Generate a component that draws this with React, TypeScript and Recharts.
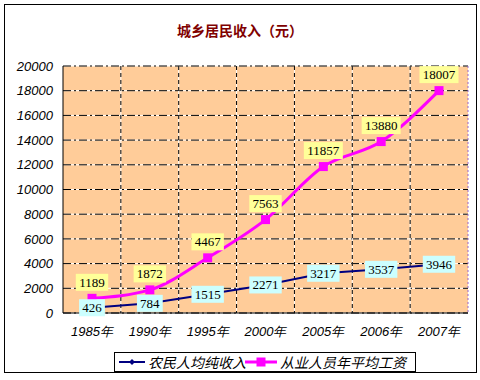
import React from "react";
import { LineChart, Line, XAxis, YAxis, CartesianGrid, LabelList, Customized } from "recharts";

const years = ["1985年", "1990年", "1995年", "2000年", "2005年", "2006年", "2007年"];
const farmerIncome = [426, 784, 1515, 2271, 3217, 3537, 3946];
const wageIncome = [1189, 1872, 4467, 7563, 11857, 13880, 18007];
const yTicks = [0, 2000, 4000, 6000, 8000, 10000, 12000, 14000, 16000, 18000, 20000];
const title = "城乡居民收入（元）";
const farmerName = "农民人均纯收入";
const wageName = "从业人员年平均工资";

const data = years.map((y, i) => ({ year: y, farmer: farmerIncome[i], wage: wageIncome[i] }));

const PINK = "#FF00FF";
const NAVY = "#000080";
const tickFont = "'Liberation Sans', Arial, sans-serif";
const labelFont = "'Liberation Serif', 'Times New Roman', serif";
const cjkFont = "'Noto Sans CJK SC', sans-serif";

const makeLabel = (fill: string, dyOffset: number) => (props: any) => {
  const { x, y, value } = props;
  const s = String(value);
  const w = s.length * 6.6 + 6;
  const h = 17;
  const cy = y + dyOffset;
  return (
    <g>
      <rect x={x - w / 2} y={cy - h / 2} width={w} height={h} fill={fill} />
      <text x={x} y={cy} textAnchor="middle" dominantBaseline="central" fontFamily={labelFont} fontSize={13} fill="#000">
        {s}
      </text>
    </g>
  );
};

const Diamond = (props: any) => {
  const { cx, cy } = props;
  if (cx == null || cy == null) return null;
  const r = 3;
  return <path d={`M${cx},${cy - r}L${cx + r},${cy}L${cx},${cy + r}L${cx - r},${cy}Z`} fill={NAVY} />;
};

const Square = (props: any) => {
  const { cx, cy } = props;
  if (cx == null || cy == null) return null;
  return <rect x={cx - 4.5} y={cy - 4.5} width={9} height={9} fill={PINK} />;
};

const Decor = (props: any) => {
  const off = props.offset || {};
  const left = off.left ?? 63;
  const top = off.top ?? 66;
  const width = off.width ?? 405;
  const right = left + width;
  return (
    <g>
      <rect x={4.5} y={4.5} width={472} height={368} fill="none" stroke="#000" strokeWidth={1} />
      <text x={240} y={30} textAnchor="middle" dominantBaseline="central" fontFamily={cjkFont} fontWeight="bold" fontSize={14} fill="#800000">
        {title}
      </text>
      <line x1={right} y1={top} x2={right} y2={top + (off.height ?? 247)} stroke="#9966CC" strokeDasharray="2 2" />
      <g>
        <rect x={114.5} y={352.5} width={301} height={19} fill="#fff" stroke="#000" />
        <line x1={119} y1={362} x2={145} y2={362} stroke={NAVY} strokeWidth={2} />
        <Diamond cx={132} cy={362} />
        <text x={148} y={362} dominantBaseline="central" fontFamily={cjkFont} fontStyle="italic" fontSize={14} fill="#000">
          {farmerName}
        </text>
        <line x1={245} y1={362} x2={277} y2={362} stroke={PINK} strokeWidth={3} />
        <Square cx={261} cy={362} />
        <text x={280} y={362} dominantBaseline="central" fontFamily={cjkFont} fontStyle="italic" fontSize={14} fill="#000">
          {wageName}
        </text>
      </g>
    </g>
  );
};

const vGen = (p: any) => {
  const off = p.offset;
  const n = years.length;
  const res: number[] = [];
  for (let i = 1; i < n; i++) res.push(off.left + (i * off.width) / n);
  return res;
};

export default function App() {
  return (
    <div style={{ position: "absolute", left: 0, top: 0, width: 480, height: 380, background: "#fff" }}>
      <LineChart width={480} height={380} data={data} margin={{ top: 66, right: 12, left: 0, bottom: 37 }}>
        <CartesianGrid fill="#FFCC99" stroke="#fff" strokeWidth={1} vertical={false} />
        <CartesianGrid stroke="#000" strokeDasharray="8 3 2 3" vertical={false} />
        <CartesianGrid stroke="#fff" horizontal={false} verticalCoordinatesGenerator={vGen} />
        <CartesianGrid stroke="#000" strokeDasharray="4 3" horizontal={false} verticalCoordinatesGenerator={vGen} />
        <XAxis
          dataKey="year"
          padding={{ left: 29, right: 29 }}
          stroke="#000"
          tickLine={false}
          tickSize={0}
          tickMargin={14}
          height={30}
          interval={0}
          tick={{ fontFamily: tickFont, fontStyle: "italic", fontSize: 13, fill: "#000" }}
        />
        <YAxis
          width={63}
          domain={[0, 20000]}
          ticks={yTicks}
          stroke="#000"
          tickLine={false}
          tickSize={0}
          tickMargin={10}
          interval={0}
          tick={{ fontFamily: tickFont, fontStyle: "italic", fontSize: 13, fill: "#000" }}
        />
        <Line type="monotone" dataKey="wage" stroke={PINK} strokeWidth={3} dot={<Square />} isAnimationActive={false}>
          <LabelList dataKey="wage" content={makeLabel("#FFFF99", -16)} />
        </Line>
        <Line type="linear" dataKey="farmer" stroke={NAVY} strokeWidth={2} dot={<Diamond />} isAnimationActive={false}>
          <LabelList dataKey="farmer" content={makeLabel("#CCFFFF", 0)} />
        </Line>
        <Customized component={Decor} />
      </LineChart>
    </div>
  );
}
